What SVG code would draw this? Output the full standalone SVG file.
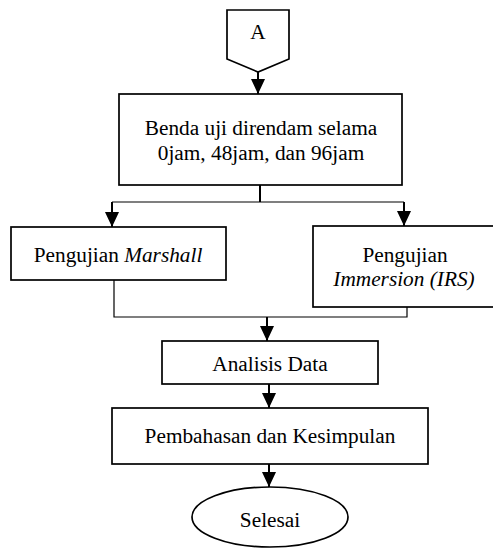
<svg xmlns="http://www.w3.org/2000/svg" width="493" height="549" viewBox="0 0 493 549">
<style>
.box{fill:#fff;stroke:#000;stroke-width:1.7}
.ln{fill:none;stroke:#000;stroke-width:1.2}
.ar{fill:none;stroke:#000;stroke-width:2}
text{font-family:"Liberation Serif","Times New Roman",serif;font-size:21.3px;fill:#000;text-anchor:middle}
.it{font-style:italic}
</style>
<defs>
<marker id="ah" markerUnits="userSpaceOnUse" markerWidth="16" markerHeight="14" viewBox="0 0 16 14" refX="15" refY="7" orient="auto">
<path d="M0,0 L15,7 L0,14 Z" fill="#000"/>
</marker>
</defs>
<g id="connectors">
<line class="ar" x1="258" y1="72" x2="258" y2="94" marker-end="url(#ah)"/>
<line class="ar" x1="260" y1="185" x2="260" y2="202"/>
<line class="ln" x1="112" y1="202" x2="404" y2="202"/>
<line class="ar" x1="112" y1="202" x2="112" y2="227" marker-end="url(#ah)"/>
<line class="ar" x1="404" y1="202" x2="404" y2="226" marker-end="url(#ah)"/>
<polyline class="ln" points="114,280 114,317 407,317 407,307"/>
<line class="ar" x1="267" y1="317" x2="267" y2="341" marker-end="url(#ah)"/>
<line class="ar" x1="269" y1="384" x2="269" y2="408" marker-end="url(#ah)"/>
<line class="ar" x1="269" y1="464" x2="269" y2="487" marker-end="url(#ah)"/>
</g>
<g id="nodeA">
<polygon class="box" points="227,10 289,10 289,59 258,72 227,59"/>
<text x="258" y="39">A</text>
</g>
<g id="rendam">
<rect class="box" x="119" y="94" width="283" height="91"/>
<text x="261" y="135">Benda uji direndam selama</text>
<text x="261" y="160">0jam, 48jam, dan 96jam</text>
</g>
<g id="marshall">
<rect class="box" x="11" y="227" width="215" height="53"/>
<text x="118" y="262">Pengujian <tspan class="it">Marshall</tspan></text>
</g>
<g id="irs">
<rect class="box" x="313" y="226" width="186" height="81"/>
<text x="405" y="262">Pengujian</text>
<text x="404" y="286" class="it">Immersion (IRS)</text>
</g>
<g id="analisis">
<rect class="box" x="162" y="341" width="216" height="43"/>
<text x="270" y="371">Analisis Data</text>
</g>
<g id="pembahasan">
<rect class="box" x="112" y="408" width="316" height="56"/>
<text x="270" y="443">Pembahasan dan Kesimpulan</text>
</g>
<g id="selesai">
<ellipse class="box" cx="270" cy="517" rx="78" ry="30"/>
<text x="270" y="527">Selesai</text>
</g>
</svg>
